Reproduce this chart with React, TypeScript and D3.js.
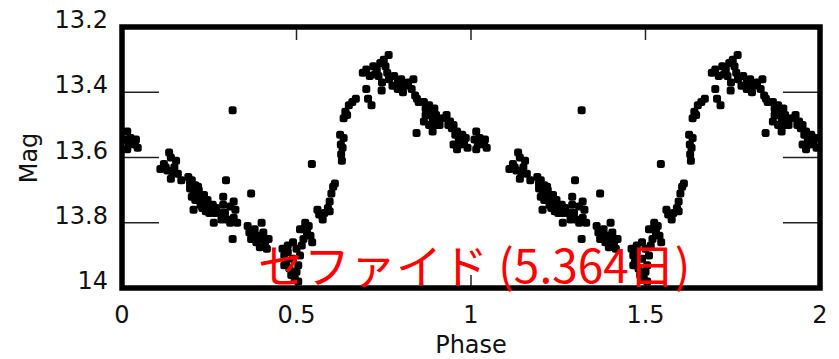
import React from 'react';
import * as d3 from 'd3';

// folded light curve, phase 0..1 (plotted twice: phase and phase + 1)
const earlyDecline: [number, number][] = [
  [0.015, 13.52], [0.025, 13.54], [0.04, 13.545], [0.037, 13.56], [0.02, 13.56],
  [0.015, 13.575], [0.045, 13.57], [0.03, 13.55], [0.01, 13.545],
  [0.135, 13.585], [0.14, 13.6], [0.12, 13.62], [0.11, 13.635], [0.13, 13.64],
  [0.15, 13.63], [0.16, 13.65], [0.14, 13.665], [0.17, 13.67], [0.155, 13.61],
  [0.125, 13.63], [0.145, 13.645],
];

const decline: [number, number][] = [
  [0.19, 13.66], [0.195, 13.68], [0.2, 13.67], [0.205, 13.7], [0.21, 13.685],
  [0.215, 13.71], [0.22, 13.7], [0.225, 13.72], [0.23, 13.735], [0.235, 13.715],
  [0.24, 13.74], [0.245, 13.73], [0.25, 13.75], [0.255, 13.76], [0.26, 13.745],
  [0.265, 13.77], [0.2, 13.72], [0.21, 13.73], [0.225, 13.745], [0.24, 13.765],
  [0.27, 13.755], [0.28, 13.77], [0.205, 13.76], [0.263, 13.8], [0.298, 13.67],
  [0.195, 13.695], [0.215, 13.725], [0.23, 13.755], [0.25, 13.77], [0.218, 13.69],
  [0.29, 13.72], [0.29, 13.745], [0.295, 13.77], [0.285, 13.79], [0.31, 13.75],
  [0.32, 13.735], [0.325, 13.76], [0.32, 13.785], [0.33, 13.8], [0.31, 13.8],
  [0.317, 13.85], [0.37, 13.71], [0.317, 13.455], [0.3, 13.79],
];

const minimum: [number, number][] = [
  [0.36, 13.81], [0.365, 13.83], [0.37, 13.85], [0.38, 13.82], [0.385, 13.86],
  [0.39, 13.84], [0.4, 13.8], [0.405, 13.83], [0.41, 13.86], [0.415, 13.88],
  [0.395, 13.875], [0.42, 13.85], [0.375, 13.84], [0.4, 13.85],
  [0.46, 13.88], [0.465, 13.9], [0.47, 13.92], [0.475, 13.89], [0.48, 13.94],
  [0.49, 13.91], [0.485, 13.96], [0.495, 13.97], [0.5, 13.95], [0.505, 13.93],
  [0.51, 13.9], [0.515, 13.87], [0.52, 13.85], [0.51, 13.82], [0.525, 13.8],
  [0.53, 13.83], [0.535, 13.81], [0.54, 13.84], [0.545, 13.86], [0.5, 13.88],
  [0.49, 13.86], [0.475, 13.87], [0.465, 13.93], [0.52, 13.82], [0.505, 13.98],
];

const rise: [number, number][] = [
  [0.56, 13.76], [0.565, 13.775], [0.575, 13.79], [0.58, 13.77], [0.59, 13.755],
  [0.595, 13.735], [0.6, 13.71], [0.605, 13.69], [0.61, 13.68], [0.595, 13.765],
  [0.544, 13.62],
  [0.625, 13.53], [0.627, 13.56], [0.628, 13.59], [0.63, 13.61], [0.632, 13.57],
  [0.635, 13.54],
  [0.635, 13.48], [0.64, 13.46], [0.65, 13.44], [0.66, 13.43], [0.67, 13.42],
  [0.645, 13.47],
];

const maximum: [number, number][] = [
  [0.69, 13.34], [0.7, 13.33], [0.71, 13.35], [0.72, 13.32], [0.73, 13.33],
  [0.74, 13.31], [0.75, 13.3], [0.755, 13.32], [0.735, 13.35], [0.76, 13.34],
  [0.745, 13.37], [0.765, 13.36], [0.764, 13.286], [0.7, 13.39], [0.705, 13.42],
  [0.715, 13.44], [0.744, 13.395], [0.725, 13.345],
  [0.78, 13.35], [0.79, 13.37], [0.8, 13.36], [0.81, 13.38], [0.82, 13.37],
  [0.83, 13.39], [0.84, 13.41], [0.845, 13.42], [0.79, 13.39], [0.805, 13.4],
  [0.775, 13.38], [0.835, 13.36], [0.85, 13.43],
];

const lateDecline: [number, number][] = [
  [0.865, 13.43], [0.87, 13.45], [0.875, 13.47], [0.88, 13.44], [0.885, 13.46],
  [0.89, 13.48], [0.895, 13.45], [0.9, 13.47], [0.905, 13.49], [0.91, 13.5],
  [0.88, 13.5], [0.865, 13.49], [0.92, 13.48], [0.844, 13.525], [0.89, 13.52],
  [0.93, 13.47], [0.94, 13.49], [0.945, 13.51], [0.95, 13.5], [0.955, 13.53],
  [0.96, 13.52], [0.965, 13.54], [0.97, 13.56], [0.975, 13.53], [0.98, 13.555],
  [0.99, 13.57], [0.95, 13.56], [0.96, 13.575], [0.985, 13.54], [0.87, 13.47],
  [0.9, 13.5], [0.935, 13.5],
];

const xTicks = [0, 0.5, 1, 1.5, 2];
const yTicks = [13.2, 13.4, 13.6, 13.8, 14];
const title = 'セファイド (5.364日)';

const W = 839;
const H = 359;

export default function App() {
  const x = d3.scaleLinear().domain([0, 2]).range([122, 820]);
  const y = d3.scaleLinear().domain([13.2, 14]).range([27, 288]);

  const folded = [...earlyDecline, ...decline, ...minimum, ...rise, ...maximum, ...lateDecline];
  const points = folded.flatMap(([p, m]) => [[p, m], [p + 1, m]]);

  const innerX = xTicks.slice(1, -1);
  const innerY = yTicks.slice(1, -1);
  const sz = 8;

  return (
    <svg width={W} height={H} style={{ position: 'fixed', left: 0, top: 0, background: '#fff' }}
      fontFamily="'DejaVu Sans', sans-serif">
      <defs>
        <clipPath id="plot">
          <rect x={x(0)} y={y(13.2)} width={x(2) - x(0)} height={y(14) - y(13.2)} />
        </clipPath>
      </defs>

      {/* inward ticks */}
      <g stroke="#222" strokeWidth={1.5}>
        {innerY.map(t => (
          <g key={'y' + t}>
            <line x1={x(0)} x2={x(0) + 37} y1={y(t)} y2={y(t)} />
            <line x1={x(2)} x2={x(2) - 37} y1={y(t)} y2={y(t)} />
          </g>
        ))}
        {innerX.map(t => (
          <g key={'x' + t}>
            <line x1={x(t)} x2={x(t)} y1={y(13.2)} y2={y(13.2) + 13} />
            <line x1={x(t)} x2={x(t)} y1={y(14)} y2={y(14) - 13} />
          </g>
        ))}
      </g>

      <g clipPath="url(#plot)" fill="#000">
        {points.map(([p, m], i) => (
          <rect key={i} x={x(p) - sz / 2} y={y(m) - sz / 2} width={sz} height={sz} rx={2.5} />
        ))}
      </g>

      <rect x={x(0)} y={y(13.2)} width={x(2) - x(0)} height={y(14) - y(13.2)}
        fill="none" stroke="#000" strokeWidth={5.5} />

      {/* tick labels */}
      <g fontSize={24} fill="#111">
        {yTicks.map(t => (
          <text key={t} x={108} y={y(t) + 1} textAnchor="end">{d3.format('')(t)}</text>
        ))}
        {xTicks.map(t => (
          <text key={t} x={x(t)} y={323} textAnchor="middle">{d3.format('')(t)}</text>
        ))}
        <text x={(x(0) + x(2)) / 2} y={353} textAnchor="middle">Phase</text>
        <text transform={`translate(37,${158}) rotate(-90)`} textAnchor="middle">Mag</text>
      </g>

      <text x={258} y={283} fontSize={46} fill="#ff0000"
        fontFamily="'Noto Sans CJK JP', sans-serif">{title}</text>
    </svg>
  );
}
